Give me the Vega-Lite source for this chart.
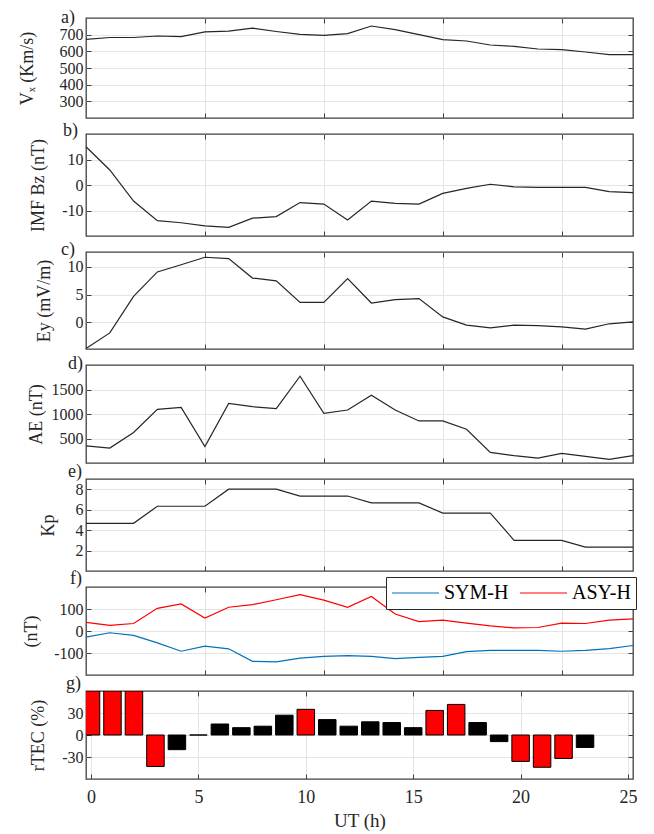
{
  "$schema": "https://vega.github.io/schema/vega-lite/v6.json",
  "background": "white",
  "padding": {"left": 17, "top": 7, "right": 5, "bottom": 5},
  "bounds": "flush",
  "spacing": 16,
  "resolve": {"legend": {"color": "independent"}},
  "datasets": {
    "sw": [
      {"hour": 0, "vx": 672, "bz": 15, "ey": -4.7, "ae": 351, "kp": 4.667},
      {"hour": 1, "vx": 683, "bz": 5.9, "ey": -1.9, "ae": 304, "kp": 4.667},
      {"hour": 2, "vx": 683, "bz": -6.3, "ey": 4.7, "ae": 622, "kp": 4.667},
      {"hour": 3, "vx": 692, "bz": -14, "ey": 9.1, "ae": 1095, "kp": 6.333},
      {"hour": 4, "vx": 688, "bz": -14.8, "ey": 10.4, "ae": 1135, "kp": 6.333},
      {"hour": 5, "vx": 717, "bz": -16, "ey": 11.75, "ae": 338, "kp": 6.333},
      {"hour": 6, "vx": 721, "bz": -16.6, "ey": 11.5, "ae": 1216, "kp": 8},
      {"hour": 7, "vx": 739, "bz": -13, "ey": 8.0, "ae": 1149, "kp": 8},
      {"hour": 8, "vx": 719, "bz": -12.4, "ey": 7.5, "ae": 1108, "kp": 8},
      {"hour": 9, "vx": 702, "bz": -6.9, "ey": 3.6, "ae": 1770, "kp": 7.333},
      {"hour": 10, "vx": 696, "bz": -7.5, "ey": 3.6, "ae": 1013, "kp": 7.333},
      {"hour": 11, "vx": 706, "bz": -13.7, "ey": 7.9, "ae": 1081, "kp": 7.333},
      {"hour": 12, "vx": 752, "bz": -6.3, "ey": 3.5, "ae": 1385, "kp": 6.667},
      {"hour": 13, "vx": 730, "bz": -7.2, "ey": 4.1, "ae": 1081, "kp": 6.667},
      {"hour": 14, "vx": 700, "bz": -7.5, "ey": 4.3, "ae": 858, "kp": 6.667},
      {"hour": 15, "vx": 670, "bz": -3.3, "ey": 1.0, "ae": 858, "kp": 5.667},
      {"hour": 16, "vx": 662, "bz": -1.3, "ey": -0.5, "ae": 689, "kp": 5.667},
      {"hour": 17, "vx": 638, "bz": 0.3, "ey": -1.0, "ae": 216, "kp": 5.667},
      {"hour": 18, "vx": 630, "bz": -0.7, "ey": -0.5, "ae": 149, "kp": 3},
      {"hour": 19, "vx": 614, "bz": -0.9, "ey": -0.6, "ae": 101, "kp": 3},
      {"hour": 20, "vx": 610, "bz": -0.9, "ey": -0.8, "ae": 196, "kp": 3},
      {"hour": 21, "vx": 596, "bz": -0.9, "ey": -1.2, "ae": 135, "kp": 2.333},
      {"hour": 22, "vx": 580, "bz": -2.6, "ey": -0.25, "ae": 75, "kp": 2.333},
      {"hour": 23, "vx": 580, "bz": -3, "ey": 0.1, "ae": 149, "kp": 2.333}
    ],
    "idx": [
      {"hour": 0, "index": "SYM-H", "value": -28}, {"hour": 0, "index": "ASY-H", "value": 39},
      {"hour": 1, "index": "SYM-H", "value": -8}, {"hour": 1, "index": "ASY-H", "value": 26},
      {"hour": 2, "index": "SYM-H", "value": -20}, {"hour": 2, "index": "ASY-H", "value": 34},
      {"hour": 3, "index": "SYM-H", "value": -54}, {"hour": 3, "index": "ASY-H", "value": 103},
      {"hour": 4, "index": "SYM-H", "value": -92}, {"hour": 4, "index": "ASY-H", "value": 123},
      {"hour": 5, "index": "SYM-H", "value": -69}, {"hour": 5, "index": "ASY-H", "value": 59},
      {"hour": 6, "index": "SYM-H", "value": -81}, {"hour": 6, "index": "ASY-H", "value": 108},
      {"hour": 7, "index": "SYM-H", "value": -138}, {"hour": 7, "index": "ASY-H", "value": 120},
      {"hour": 8, "index": "SYM-H", "value": -140}, {"hour": 8, "index": "ASY-H", "value": 142},
      {"hour": 9, "index": "SYM-H", "value": -123}, {"hour": 9, "index": "ASY-H", "value": 165},
      {"hour": 10, "index": "SYM-H", "value": -115}, {"hour": 10, "index": "ASY-H", "value": 140},
      {"hour": 11, "index": "SYM-H", "value": -112}, {"hour": 11, "index": "ASY-H", "value": 108},
      {"hour": 12, "index": "SYM-H", "value": -115}, {"hour": 12, "index": "ASY-H", "value": 157},
      {"hour": 13, "index": "SYM-H", "value": -126}, {"hour": 13, "index": "ASY-H", "value": 77},
      {"hour": 14, "index": "SYM-H", "value": -120}, {"hour": 14, "index": "ASY-H", "value": 43},
      {"hour": 15, "index": "SYM-H", "value": -115}, {"hour": 15, "index": "ASY-H", "value": 49},
      {"hour": 16, "index": "SYM-H", "value": -94}, {"hour": 16, "index": "ASY-H", "value": 36},
      {"hour": 17, "index": "SYM-H", "value": -88}, {"hour": 17, "index": "ASY-H", "value": 23},
      {"hour": 18, "index": "SYM-H", "value": -88}, {"hour": 18, "index": "ASY-H", "value": 14},
      {"hour": 19, "index": "SYM-H", "value": -88}, {"hour": 19, "index": "ASY-H", "value": 16},
      {"hour": 20, "index": "SYM-H", "value": -92}, {"hour": 20, "index": "ASY-H", "value": 36},
      {"hour": 21, "index": "SYM-H", "value": -88}, {"hour": 21, "index": "ASY-H", "value": 34},
      {"hour": 22, "index": "SYM-H", "value": -80}, {"hour": 22, "index": "ASY-H", "value": 49},
      {"hour": 23, "index": "SYM-H", "value": -66}, {"hour": 23, "index": "ASY-H", "value": 55}
    ],
    "tec": [
      {"hour": 0, "rtec": 60}, {"hour": 1, "rtec": 60}, {"hour": 2, "rtec": 60},
      {"hour": 3, "rtec": -43}, {"hour": 4, "rtec": -20}, {"hour": 5, "rtec": 0},
      {"hour": 6, "rtec": 15}, {"hour": 7, "rtec": 10}, {"hour": 8, "rtec": 12},
      {"hour": 9, "rtec": 27}, {"hour": 10, "rtec": 35}, {"hour": 11, "rtec": 21},
      {"hour": 12, "rtec": 12}, {"hour": 13, "rtec": 18}, {"hour": 14, "rtec": 17},
      {"hour": 15, "rtec": 10}, {"hour": 16, "rtec": 33.5}, {"hour": 17, "rtec": 41.7},
      {"hour": 18, "rtec": 17}, {"hour": 19, "rtec": -9}, {"hour": 20, "rtec": -36},
      {"hour": 21, "rtec": -44}, {"hour": 22, "rtec": -32}, {"hour": 23, "rtec": -17}
    ]
  },
  "vconcat": [
    {
      "width": 547, "height": 100,
      "data": {"name": "sw"},
      "title": {"text": "a)", "dx": -25, "offset": -18, "baseline": "middle", "frame": "group"},
      "layer": [
        {"mark": {"type": "line", "color": "#262626", "strokeWidth": 1.2},
         "encoding": {
           "x": {"field": "hour", "type": "quantitative", "scale": {"domain": [0, 23], "nice": false, "zero": false}, "axis": {"values": [5, 10, 15, 20], "labels": false, "title": null, "grid": true}},
           "y": {"field": "vx", "type": "quantitative", "scale": {"domain": [200, 800], "nice": false, "zero": false}, "axis": {"values": [300, 400, 500, 600, 700], "title": "Vₓ (Km/s)", "grid": true, "titlePadding": 23}}}},
        {"mark": {"type": "line", "opacity": 0},
         "encoding": {
           "x": {"field": "hour", "type": "quantitative", "axis": {"orient": "top", "values": [5, 10, 15, 20], "labels": false, "grid": false, "title": null}},
           "y": {"field": "vx", "type": "quantitative", "axis": {"orient": "right", "values": [300, 400, 500, 600, 700], "labels": false, "grid": false, "title": null}}}}
      ],
      "resolve": {"axis": {"x": "independent", "y": "independent"}}
    },
    {
      "width": 547, "height": 102,
      "data": {"name": "sw"},
      "title": {"text": "b)", "dx": -23, "offset": -15, "baseline": "middle", "frame": "group"},
      "layer": [
        {"mark": {"type": "line", "color": "#262626", "strokeWidth": 1.2},
         "encoding": {
           "x": {"field": "hour", "type": "quantitative", "scale": {"domain": [0, 23], "nice": false, "zero": false}, "axis": {"values": [5, 10, 15, 20], "labels": false, "title": null, "grid": true}},
           "y": {"field": "bz", "type": "quantitative", "scale": {"domain": [-20, 20], "nice": false, "zero": false}, "axis": {"values": [-10, 0, 10], "title": "IMF Bz (nT)", "grid": true, "titlePadding": 14, "labelExpr": "'' + datum.value"}}}},
        {"mark": {"type": "line", "opacity": 0},
         "encoding": {
           "x": {"field": "hour", "type": "quantitative", "axis": {"orient": "top", "values": [5, 10, 15, 20], "labels": false, "grid": false, "title": null}},
           "y": {"field": "bz", "type": "quantitative", "axis": {"orient": "right", "values": [-10, 0, 10], "labels": false, "grid": false, "title": null}}}}
      ],
      "resolve": {"axis": {"x": "independent", "y": "independent"}}
    },
    {
      "width": 547, "height": 97,
      "data": {"name": "sw"},
      "title": {"text": "c)", "dx": -25, "offset": -16.5, "baseline": "middle", "frame": "group"},
      "layer": [
        {"mark": {"type": "line", "color": "#262626", "strokeWidth": 1.2},
         "encoding": {
           "x": {"field": "hour", "type": "quantitative", "scale": {"domain": [0, 23], "nice": false, "zero": false}, "axis": {"values": [5, 10, 15, 20], "labels": false, "title": null, "grid": true}},
           "y": {"field": "ey", "type": "quantitative", "scale": {"domain": [-4.8, 12.7], "nice": false, "zero": false}, "axis": {"values": [0, 5, 10], "title": "Ey (mV/m)", "grid": true, "titlePadding": 14}}}},
        {"mark": {"type": "line", "opacity": 0},
         "encoding": {
           "x": {"field": "hour", "type": "quantitative", "axis": {"orient": "top", "values": [5, 10, 15, 20], "labels": false, "grid": false, "title": null}},
           "y": {"field": "ey", "type": "quantitative", "axis": {"orient": "right", "values": [0, 5, 10], "labels": false, "grid": false, "title": null}}}}
      ],
      "resolve": {"axis": {"x": "independent", "y": "independent"}}
    },
    {
      "width": 547, "height": 98,
      "data": {"name": "sw"},
      "title": {"text": "d)", "dx": -18, "offset": -17, "baseline": "middle", "frame": "group"},
      "layer": [
        {"mark": {"type": "line", "color": "#262626", "strokeWidth": 1.2},
         "encoding": {
           "x": {"field": "hour", "type": "quantitative", "scale": {"domain": [0, 23], "nice": false, "zero": false}, "axis": {"values": [5, 10, 15, 20], "labels": false, "title": null, "grid": true}},
           "y": {"field": "ae", "type": "quantitative", "scale": {"domain": [0, 2000], "nice": false, "zero": false}, "axis": {"values": [500, 1000, 1500], "title": "AE (nT)", "grid": true, "titlePadding": 6, "labelExpr": "'' + datum.value"}}}},
        {"mark": {"type": "line", "opacity": 0},
         "encoding": {
           "x": {"field": "hour", "type": "quantitative", "axis": {"orient": "top", "values": [5, 10, 15, 20], "labels": false, "grid": false, "title": null}},
           "y": {"field": "ae", "type": "quantitative", "axis": {"orient": "right", "values": [500, 1000, 1500], "labels": false, "grid": false, "title": null}}}}
      ],
      "resolve": {"axis": {"x": "independent", "y": "independent"}}
    },
    {
      "width": 547, "height": 92,
      "data": {"name": "sw"},
      "title": {"text": "e)", "dx": -18, "offset": -11, "baseline": "middle", "frame": "group"},
      "layer": [
        {"mark": {"type": "line", "color": "#262626", "strokeWidth": 1.2},
         "encoding": {
           "x": {"field": "hour", "type": "quantitative", "scale": {"domain": [0, 23], "nice": false, "zero": false}, "axis": {"values": [5, 10, 15, 20], "labels": false, "title": null, "grid": true}},
           "y": {"field": "kp", "type": "quantitative", "scale": {"domain": [0, 9], "nice": false, "zero": false}, "axis": {"values": [2, 4, 6, 8], "title": "Kp", "grid": true, "titlePadding": 18}}}},
        {"mark": {"type": "line", "opacity": 0},
         "encoding": {
           "x": {"field": "hour", "type": "quantitative", "axis": {"orient": "top", "values": [5, 10, 15, 20], "labels": false, "grid": false, "title": null}},
           "y": {"field": "kp", "type": "quantitative", "axis": {"orient": "right", "values": [2, 4, 6, 8], "labels": false, "grid": false, "title": null}}}}
      ],
      "resolve": {"axis": {"x": "independent", "y": "independent"}}
    },
    {
      "width": 547, "height": 88,
      "data": {"name": "idx"},
      "title": {"text": "f)", "dx": -16, "offset": -20, "baseline": "middle", "frame": "group"},
      "layer": [
        {"mark": {"type": "line", "strokeWidth": 1.2},
         "encoding": {
           "x": {"field": "hour", "type": "quantitative", "scale": {"domain": [0, 23], "nice": false, "zero": false}, "axis": {"values": [5, 10, 15, 20], "labels": false, "title": null, "grid": true}},
           "y": {"field": "value", "type": "quantitative", "scale": {"domain": [-200, 200], "nice": false, "zero": false}, "axis": {"values": [-100, 0, 100], "title": "(nT)", "grid": true, "titlePadding": 13, "labelExpr": "'' + datum.value"}},
           "color": {"field": "index", "type": "nominal", "scale": {"domain": ["SYM-H", "ASY-H"], "range": ["#0072BD", "#FF0000"]},
             "legend": {"title": null, "orient": "none", "legendX": 300, "legendY": -10, "direction": "horizontal", "symbolType": "stroke", "symbolSize": 2209, "symbolStrokeWidth": 1.2, "clipHeight": 22, "labelFont": "Liberation Serif", "labelFontSize": 20, "labelColor": "#000000", "fillColor": "white", "strokeColor": "#262626", "padding": 5, "columnPadding": 10, "labelOffset": 4}}}},
        {"mark": {"type": "line", "opacity": 0},
         "encoding": {
           "x": {"field": "hour", "type": "quantitative", "axis": {"orient": "top", "values": [5, 10, 15, 20], "labels": false, "grid": false, "title": null}},
           "y": {"field": "value", "type": "quantitative", "axis": {"orient": "right", "values": [-100, 0, 100], "labels": false, "grid": false, "title": null}},
           "detail": {"field": "index"}}}
      ],
      "resolve": {"axis": {"x": "independent", "y": "independent"}}
    },
    {
      "width": 547, "height": 88,
      "data": {"name": "tec"},
      "title": {"text": "g)", "dx": -20, "offset": -14, "baseline": "middle", "frame": "group"},
      "layer": [
        {"mark": {"type": "bar", "width": 17.5, "stroke": "#000000", "strokeWidth": 1, "clip": true},
         "encoding": {
           "x": {"field": "hour", "type": "quantitative", "scale": {"domain": [0, 25], "nice": false, "zero": false}, "axis": {"values": [0, 5, 10, 15, 20, 25], "title": "UT (h)", "grid": true, "labelFontSize": 18, "titleFontSize": 19, "labelPadding": 14, "titlePadding": 5}},
           "y": {"field": "rtec", "type": "quantitative", "scale": {"domain": [-60, 60], "nice": false, "zero": false}, "axis": {"values": [-30, 0, 30], "title": "rTEC (%)", "grid": true, "titlePadding": 14, "labelExpr": "'' + datum.value"}},
           "color": {"condition": {"test": "abs(datum.rtec) > 30", "value": "#FF0000"}, "value": "#000000"}}},
        {"mark": {"type": "point", "opacity": 0},
         "encoding": {
           "x": {"field": "hour", "type": "quantitative", "axis": {"orient": "top", "values": [5, 10, 15, 20], "labels": false, "grid": false, "title": null}},
           "y": {"field": "rtec", "type": "quantitative", "axis": {"orient": "right", "values": [-30, 0, 30], "labels": false, "grid": false, "title": null}}}}
      ],
      "resolve": {"axis": {"x": "independent", "y": "independent"}}
    }
  ],
  "config": {
    "font": "Liberation Serif",
    "view": {"stroke": "#404040", "strokeWidth": 1.3},
    "axis": {"labelFont": "Liberation Serif", "titleFont": "Liberation Serif", "labelFontSize": 16, "titleFontSize": 18, "titleFontWeight": "normal", "labelColor": "#262626", "titleColor": "#262626", "domain": false, "gridColor": "#e4e4e4", "gridWidth": 1, "tickColor": "#404040", "tickSize": -5, "tickWidth": 1, "labelPadding": 8, "titlePadding": 6, "labelOverlap": false, "labelBound": false},
    "title": {"font": "Liberation Serif", "fontSize": 18, "fontWeight": "normal", "anchor": "start", "color": "#262626"},
    "legend": {"labelFont": "Liberation Serif"}
  }
}
